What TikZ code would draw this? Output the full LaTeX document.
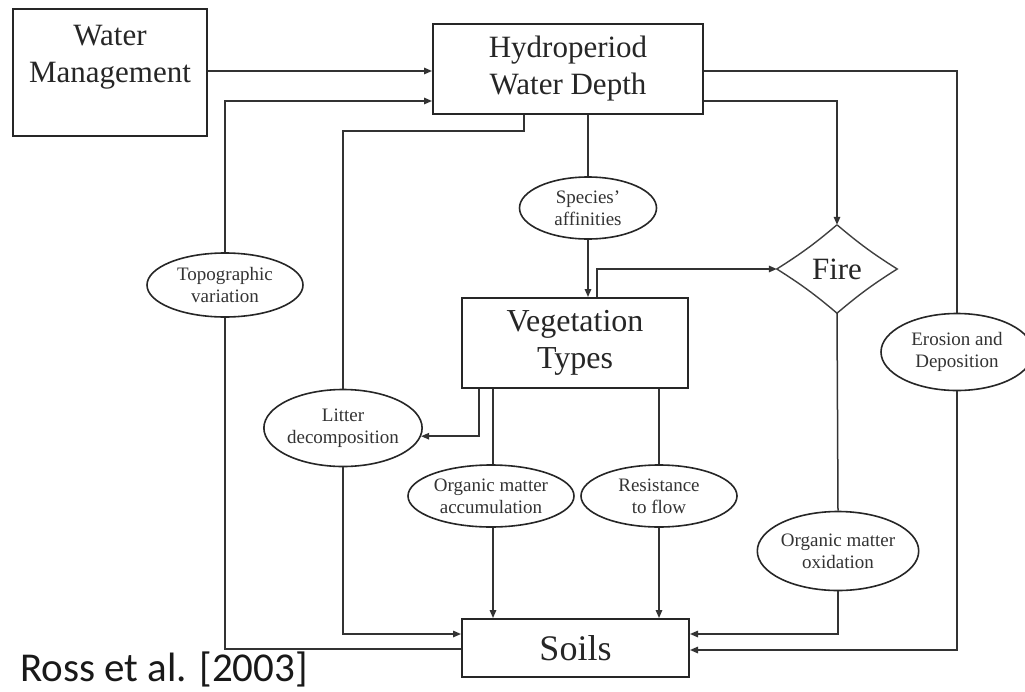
\documentclass[tikz,border=0pt]{standalone}
\usepackage{fontspec}
\setmainfont{Liberation Serif}
\newfontfamily\rossfont{Carlito}
\usetikzlibrary{arrows.meta,shapes.geometric}
\begin{document}
\begin{tikzpicture}[x=1pt,y=-1pt,
  boxnode/.style={draw=black!85, line width=2pt, inner sep=0pt, align=center, text=black!85},
  bigtext/.style={font=\fontsize{31}{37}\selectfont, text=black!85},
  ell/.style={ellipse, draw=black!85, line width=1.6pt, inner sep=0pt, align=center,
              font=\fontsize{19}{22}\selectfont, text=black!80, fill=white},
  conn/.style={draw=black!80, line width=1.5pt},
  arr/.style={conn, -{Triangle[length=8pt,width=6.5pt]}},
]
\useasboundingbox[fill=white] (0,0) rectangle (1025,691);

% boxes
\node[boxnode, minimum width=194pt, minimum height=127pt] (wm) at (110,72.5) {};
\node[bigtext, align=center, inner sep=0pt] (wmtext) at (110,57) {Water\\Management};
\node[boxnode, bigtext, minimum width=270pt, minimum height=90pt] (hydro) at (568,69) {Hydroperiod\\Water Depth};
\node[boxnode, font=\fontsize{32}{37}\selectfont, minimum width=226pt, minimum height=90pt] (veg) at (575,343) {Vegetation\\Types};
\node[boxnode, font=\fontsize{36}{40}\selectfont, minimum width=227pt, minimum height=58pt] (soils) at (575.5,648) {Soils};
\node[diamond, draw=none, inner sep=0pt, minimum width=120pt, minimum height=88pt,
      font=\fontsize{31}{37}\selectfont, text=black!85] (fire) at (837,269) {Fire};
\draw[draw=black!75, line width=1.4pt, line join=miter]
  (fire.north) to[bend left=4] (fire.west) to[bend left=4] (fire.south)
  to[bend left=4] (fire.east) to[bend left=4] (fire.north);

% ellipses
\node[ell, minimum width=137pt, minimum height=62pt] (species) at (588,208) {Species'\\affinities};
\node[ell, minimum width=156pt, minimum height=64pt] (topo) at (225,285) {Topographic\\variation};
\node[ell, minimum width=152pt, minimum height=77pt] (erosion) at (957,352) {Erosion and\\Deposition};
\node[ell, minimum width=150pt, minimum height=77pt] (litter) at (343,428) {Litter\\decomposition};
\node[ell, minimum width=166pt, minimum height=62pt] (accum) at (491,496) {Organic matter\\accumulation};
\node[ell, minimum width=156pt, minimum height=62pt] (resist) at (659,496) {Resistance\\to flow};
\node[ell, minimum width=156pt, minimum height=79pt] (oxid) at (838,551) {Organic matter\\oxidation};

\node[font=\rossfont\fontsize{41}{48}\selectfont, anchor=base west, inner sep=0pt, text=black!90] (ross) at (20,681) {Ross et al. [2003]};

% connectors
\coordinate (bendlit) at (524,131);
\draw[arr] (wm.east |- 0,71) -- (hydro.west |- 0,71);
\draw[conn] (soils.west |- 0,649) -| (topo.south);
\draw[arr] (topo.north) |- (hydro.west |- 0,101);
\draw[conn] (hydro.south -| bendlit) -- (bendlit) -| (litter.north);
\draw[arr] (litter.south) |- (soils.west |- 0,634);
\draw[conn] (hydro.south -| species.north) -- (species.north);
\draw[arr] (species.south) -- (species.south |- veg.north);
\draw[arr] (veg.north -| 597,0) |- (fire.west);
\draw[arr] (hydro.east |- 0,101) -| (fire.north);
\draw[conn] (hydro.east |- 0,71) -| (erosion.north);
\draw[arr] (erosion.south) |- (soils.east |- 0,650);
\draw[conn] (fire.south) -- (oxid.north);
\draw[arr] (oxid.south) |- (soils.east |- 0,634);
\draw[arr] (veg.south -| 479,0) |- (litter.-6.6);
\draw[conn] (veg.south -| 493,0) -- (accum.north -| 493,0);
\draw[arr] (accum.south -| 493,0) -- (soils.north -| 493,0);
\draw[conn] (veg.south -| resist.north) -- (resist.north);
\draw[arr] (resist.south) -- (resist.south |- soils.north);
\end{tikzpicture}
\end{document}
